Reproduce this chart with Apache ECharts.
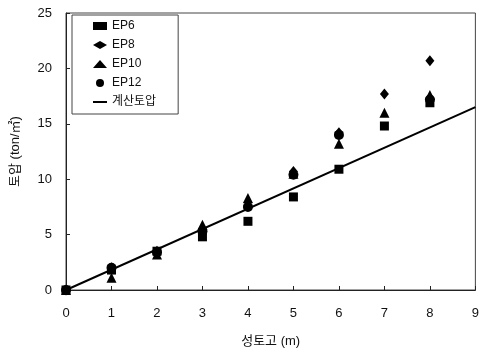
<!DOCTYPE html>
<html>
<head>
<meta charset="utf-8">
<script src="https://cdn.jsdelivr.net/npm/echarts@6/dist/echarts.min.js"></script>
<style>
  html, body { margin: 0; padding: 0; background: #fff; }
  #chart { width: 482px; height: 358px; }
</style>
</head>
<body>
<div id="chart"></div>
<script>
// fill height (m)
var heights = [0, 1, 2, 3, 4, 5, 6, 7, 8];
// measured earth pressure (ton/m2), null = not plotted
var ep6  = [0, 1.8, 3.5, 4.8, 6.2, 8.4, 10.9, 14.8, 16.9];
var ep8  = [0, 2.0, 3.5, 5.2, 7.6, 10.7, 14.2, 17.7, 20.7];
var ep10 = [0, 1.1, 3.2, 5.9, 8.3, 10.5, 13.2, 16.0, 17.6];
var ep12 = [0, 2.0, 3.4, 5.3, 7.5, 10.4, 14.0, null, 17.2];
// calculated pressure line
var calcX = [0, 9];
var calcY = [0, 16.5];

var font = '"Liberation Sans", Arial, "Noto Sans CJK KR", sans-serif';

function pairs(xs, ys) {
    var out = [];
    for (var i = 0; i < xs.length; i++) {
        if (ys[i] !== null) out.push([xs[i], ys[i]]);
    }
    return out;
}

function scatter(name, symbol, size, ys) {
    return {
        name: name,
        type: 'scatter',
        symbol: symbol,
        symbolSize: size,
        itemStyle: { color: '#000', opacity: 1 },
        data: pairs(heights, ys),
        z: 3
    };
}

var chart = echarts.init(document.getElementById('chart'));
chart.setOption({
    animation: false,
    grid: {
        left: 66,
        right: 5,
        top: 13,
        bottom: 68,
        show: true,
        borderColor: '#444',
        borderWidth: 1
    },
    legend: {
        orient: 'vertical',
        left: 72,
        top: 15,
        padding: [5, 22, 6, 20],
        itemGap: 7,
        itemWidth: 14,
        itemHeight: 8,
        borderColor: '#444',
        borderWidth: 1,
        backgroundColor: '#fff',
        textStyle: { fontFamily: font, fontSize: 12, color: '#111' },
        data: [
            { name: 'EP6', icon: 'rect' },
            { name: 'EP8', icon: 'diamond' },
            { name: 'EP10', icon: 'triangle' },
            { name: 'EP12', icon: 'circle' },
            { name: '계산토압', itemStyle: { color: 'rgba(0,0,0,0)', borderWidth: 0 } }
        ]
    },
    xAxis: {
        type: 'value',
        min: 0,
        max: 9,
        interval: 1,
        name: '성토고 (m)',
        nameLocation: 'middle',
        nameGap: 45,
        nameTextStyle: { fontFamily: font, fontSize: 13, color: '#111' },
        axisLine: { lineStyle: { color: '#222' } },
        axisTick: { inside: true, length: 4, lineStyle: { color: '#222' } },
        axisLabel: { fontFamily: font, fontSize: 13, color: '#111', margin: 17 },
        splitLine: { show: false }
    },
    yAxis: {
        type: 'value',
        min: 0,
        max: 25,
        interval: 5,
        name: '토압 (ton/㎡)',
        nameLocation: 'middle',
        nameGap: 44,
        nameTextStyle: { fontFamily: font, fontSize: 13, color: '#111' },
        axisLine: { lineStyle: { color: '#222' } },
        axisTick: { inside: true, length: 4, lineStyle: { color: '#222' } },
        axisLabel: { fontFamily: font, fontSize: 13, color: '#111', margin: 14 },
        splitLine: { show: false }
    },
    series: [
        scatter('EP6', 'rect', 9, ep6),
        scatter('EP8', 'diamond', [9, 11], ep8),
        scatter('EP10', 'triangle', 10, ep10),
        scatter('EP12', 'circle', 10, ep12),
        {
            name: '계산토압',
            type: 'line',
            symbol: 'none',
            lineStyle: { color: '#000', width: 2 },
            itemStyle: { color: '#000' },
            data: pairs(calcX, calcY),
            z: 2
        }
    ]
});
</script>
</body>
</html>
